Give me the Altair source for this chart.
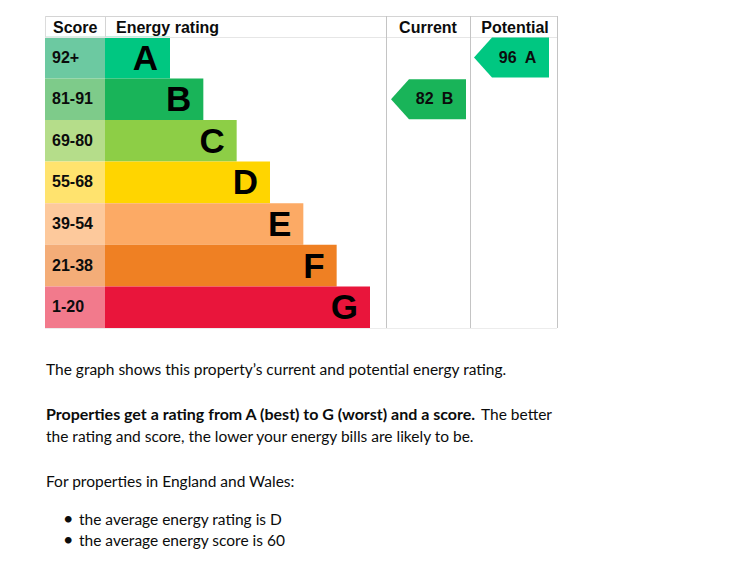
import altair as alt
import pandas as pd

# ---- data ----
ratings = ["A", "B", "C", "D", "E", "F", "G"]
score_ranges = ["92+", "81-91", "69-80", "55-68", "39-54", "21-38", "1-20"]
bar_colors = ["#00c781", "#19b459", "#8dce46", "#ffd500", "#fcaa65", "#ef8023", "#e9153b"]
score_colors = ["#6cc9a1", "#7ecb8a", "#b5dd8a", "#ffe36e", "#fdc99c", "#f4ad78", "#f27a8c"]
headers = ["Score", "Energy rating", "Current", "Potential"]
current_score, current_rating = 82, "B"
potential_score, potential_rating = 96, "A"

para1 = "The graph shows this property\u2019s current and potential energy rating."
para2_bold = "Properties get a rating from A (best) to G (worst) and a score."
para2_rest = "The better"
para3 = "the rating and score, the lower your energy bills are likely to be."
para4 = "For properties in England and Wales:"
bullets = ["the average energy rating is D", "the average energy score is 60"]

# ---- tables ----
rows = pd.DataFrame({
    "rating": ratings,
    "range": score_ranges,
    "bar": bar_colors,
    "bg": score_colors,
})
rows["idx"] = range(1, len(ratings) + 1)
rows["top"] = rows["idx"] - 1
rows["bottom"] = rows["idx"]
rows["mid"] = rows["idx"] - 0.5

def arrow_df(score, rating):
    i = ratings.index(rating)
    return pd.DataFrame({"score": [score], "rating": [rating], "mid": [i + 0.5],
                         "label": [f"{score}\u2002{rating}"], "color": [bar_colors[i]]})

cur = arrow_df(current_score, current_rating)
pot = arrow_df(potential_score, potential_rating)

W, H = 715, 561
yscale = alt.Scale(domain=[-0.5, 7], range=[8, 320])
xscale = alt.Scale(domain=[0, 7], range=[128.67, 362])
FONT = "Liberation Sans"
BODY = "Lato"

base = alt.Chart(rows)

score_bg = base.mark_rect().encode(
    x=alt.value(37), x2=alt.value(97),
    y=alt.Y("top:Q", scale=yscale, axis=None), y2="bottom:Q",
    color=alt.Color("bg:N", scale=None),
)
bars = base.mark_rect().encode(
    x=alt.X("idx:Q", scale=xscale, axis=None), x2=alt.value(97),
    y=alt.Y("top:Q", scale=yscale, axis=None), y2="bottom:Q",
    color=alt.Color("bar:N", scale=None),
)
score_txt = base.mark_text(align="left", baseline="middle", font=FONT, fontWeight="bold",
                           fontSize=16, color="#0b0c0c").encode(
    x=alt.value(44), y=alt.Y("mid:Q", scale=yscale, axis=None), text="range:N")
letter_txt = base.mark_text(align="right", baseline="middle", font=FONT, fontWeight="bold",
                            fontSize=35, dx=-12, dy=1, color="#000000").encode(
    x=alt.X("idx:Q", scale=xscale, axis=None), y=alt.Y("mid:Q", scale=yscale, axis=None),
    text="rating:N")

hdr_df = pd.DataFrame({"h": headers})
def header(i, x, align):
    return alt.Chart(hdr_df).transform_filter(alt.datum.h == headers[i]).mark_text(
        align=align, baseline="middle", font=FONT, fontWeight="bold", fontSize=16,
        color="#0b0c0c").encode(x=alt.value(x), y=alt.value(19.5), text="h:N")

headers_layer = [header(0, 45, "left"), header(1, 108, "left"),
                 header(2, 420, "center"), header(3, 507, "center")]

def rule(x, x2, y, y2, color):
    return alt.Chart(hdr_df.head(1)).mark_rule(color=color, strokeWidth=1).encode(
        x=alt.value(x), x2=alt.value(x2), y=alt.value(y), y2=alt.value(y2))

lines = [
    rule(37, 549, 8.5, 8.5, "#d4d4d4"),
    rule(37, 549, 29.5, 29.5, "#e6e6e6"),
    rule(37, 549, 320.5, 320.5, "#ececec"),
    rule(37.5, 37.5, 8, 29, "#dcdcdc"),
    rule(97.5, 97.5, 8, 29, "#d4d4d4"),
    rule(378.5, 378.5, 8, 320, "#c4c4c4"),
    rule(462.5, 462.5, 8, 320, "#c4c4c4"),
    rule(549.5, 549.5, 8, 320, "#c4c4c4"),
]

ARROW = "M -1 0 L -0.52 -0.533 L 1 -0.533 L 1 0.533 L -0.52 0.533 Z"
def arrow(df, cx):
    shape = alt.Chart(df).mark_point(shape=ARROW, filled=True, opacity=1, size=5625,
                                     strokeWidth=0).encode(
        x=alt.value(cx), y=alt.Y("mid:Q", scale=yscale, axis=None),
        color=alt.Color("color:N", scale=None))
    txt = alt.Chart(df).mark_text(align="center", baseline="middle", font=FONT,
                                  fontWeight="bold", fontSize=16, color="#0b0c0c").encode(
        x=alt.value(cx + 6), y=alt.Y("mid:Q", scale=yscale, axis=None), text="label:N")
    return [shape, txt]

arrows = arrow(cur, 420.5) + arrow(pot, 503.5)

text_df = pd.DataFrame({"t": [para1, para2_bold, para2_rest, para3, para4] + bullets + ["\u2022"]})
def body(t, x, y, bold=False, size=15.5):
    return alt.Chart(text_df).transform_filter(alt.datum.t == t).mark_text(
        align="left", baseline="middle", font=BODY, fontSize=size,
        fontWeight="bold" if bold else "normal", color="#0b0c0c").encode(
        x=alt.value(x), y=alt.value(y), text="t:N")

body_layers = [
    body(para1, 38, 362),
    body(para2_bold, 38, 407, bold=True, size=16),
    body(para2_rest, 473, 407),
    body(para3, 38, 429),
    body(para4, 38, 474),
    body("\u2022", 55, 512, size=18),
    body("\u2022", 55, 533, size=18),
    body(bullets[0], 71, 512),
    body(bullets[1], 71, 533),
]

chart = alt.layer(score_bg, bars, score_txt, letter_txt, *headers_layer, *lines, *arrows,
                  *body_layers).properties(
    width=W, height=H, autosize=alt.AutoSizeParams(type="none"), padding=0,
    background="white",
).configure_view(strokeWidth=0, stroke=None).configure_axis(
    domain=False, grid=False, labels=False, ticks=False
)

chart.save("out.html", embed_options={"renderer": "svg", "actions": False})
